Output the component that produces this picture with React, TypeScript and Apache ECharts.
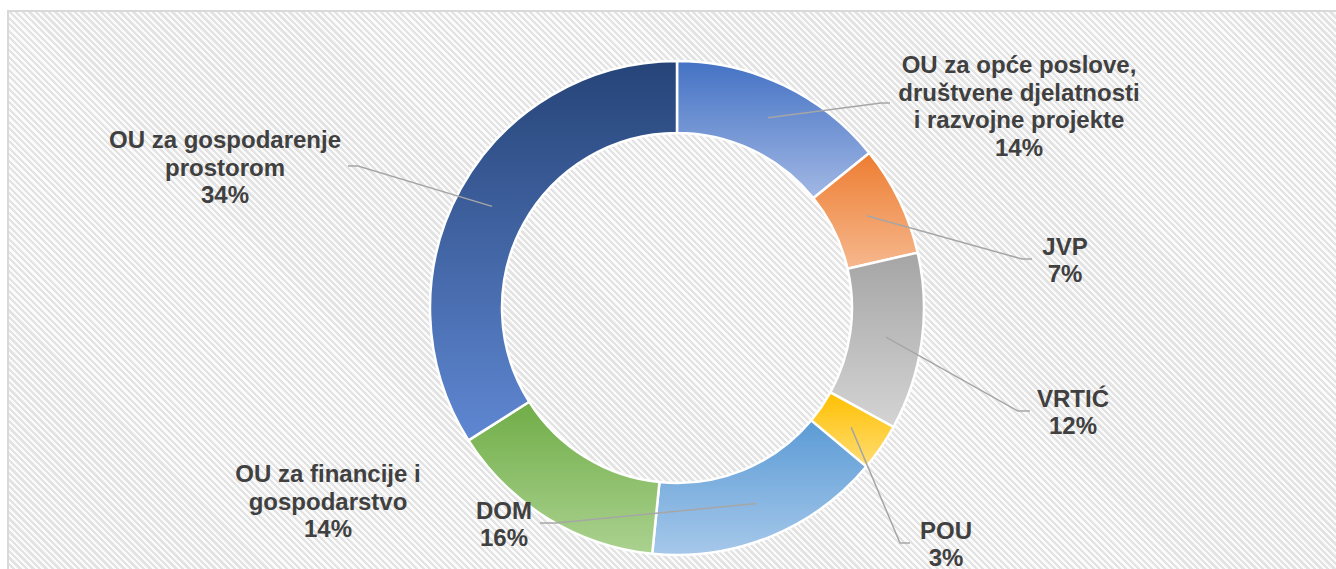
import React, { useEffect, useRef } from 'react';
import * as echarts from 'echarts';

// ---- data ----
const categories = [
  'OU za opće poslove,\ndruštvene djelatnosti\ni razvojne projekte',
  'JVP',
  'VRTIĆ',
  'POU',
  'DOM',
  'OU za financije i\ngospodarstvo',
  'OU za gospodarenje\nprostorom',
];
const shares = [14.2, 7.2, 11.6, 3.1, 15.5, 14.4, 34.0];

// ---- styles ----
const topColors = ['#4472C4', '#ED7D31', '#A5A5A5', '#FFC000', '#5B9BD5', '#70AD47', '#264478'];
const bottomColors = ['#A2B8E4', '#F6B88E', '#D4D4D4', '#FFDD75', '#A6C8EA', '#ABD290', '#5F87D2'];

// label block centres and leader-line elbows / ends (annotation layout)
const labelCenters: number[][] = [
  [1019, 106], [1065, 260], [1073, 412], [946, 544], [504, 524], [328, 501], [225, 167],
];
const labelElbows: (number[] | null)[] = [
  [881, 103], [1022, 259], [1018, 411], [900, 543], [556, 523], null, [358, 166],
];
const labelEnds: (number[] | null)[] = [
  [890, 103], [1032, 259], [1030, 411], [910, 543], [540, 523], null, [348, 166],
];

const CENTER = [677, 308];

export default function App() {
  const ref = useRef<HTMLDivElement>(null);
  useEffect(() => {
    if (!ref.current) return;
    const chart = echarts.init(ref.current, undefined, { renderer: 'svg' });
    const mainData = categories.map((name, i) => ({
      name,
      value: shares[i],
      itemStyle: {
        color: {
          type: 'linear', x: 0, y: 0, x2: 0, y2: 1,
          colorStops: [
            { offset: 0, color: topColors[i] },
            { offset: 1, color: bottomColors[i] },
          ],
        },
      },
    }));
    const labelData = categories.map((name, i) => ({
      name,
      value: shares[i],
      labelLine: { show: labelElbows[i] !== null },
    }));
    chart.setOption({
      animation: false,
      backgroundColor: 'transparent',
      series: [
        {
          type: 'pie',
          z: 2,
          center: CENTER,
          radius: [175, 247],
          startAngle: 90,
          clockwise: true,
          silent: true,
          label: { show: false },
          labelLine: { show: false },
          itemStyle: { borderColor: '#ffffff', borderWidth: 2.5 },
          data: mainData,
        },
        {
          type: 'pie',
          z: 4,
          center: CENTER,
          radius: [175, 211],
          startAngle: 90,
          clockwise: true,
          silent: true,
          percentPrecision: 0,
          avoidLabelOverlap: false,
          itemStyle: { color: 'rgba(0,0,0,0)', borderWidth: 0 },
          label: {
            show: true,
            position: 'outside',
            formatter: '{b}\n{d}%',
            color: '#404040',
            fontSize: 24,
            fontWeight: 'bold',
            fontFamily: '"Liberation Sans", Arial, sans-serif',
            lineHeight: 27.5,
            align: 'center',
          },
          labelLine: {
            show: true,
            length: 10,
            length2: 10,
            lineStyle: { color: '#A6A6A6', width: 1.5 },
          },
          labelLayout: (p: any) => {
            const i = p.dataIndex;
            const c = labelCenters[i];
            const res: any = { x: c[0], y: c[1], align: 'center', verticalAlign: 'middle' };
            const el = labelElbows[i];
            const en = labelEnds[i];
            if (el && en && p.labelLinePoints && p.labelLinePoints[0]) {
              res.labelLinePoints = [p.labelLinePoints[0], el, en];
            }
            return res;
          },
          data: labelData,
        },
      ],
    });
    return () => chart.dispose();
  }, []);

  return (
    <div style={{ position: 'absolute', left: 0, top: 0, width: 1336, height: 569, overflow: 'hidden', background: '#ffffff' }}>
      <div
        style={{
          position: 'absolute',
          left: 7,
          top: 10,
          width: 1400,
          height: 600,
          boxSizing: 'border-box',
          border: '2px solid #D9D9D9',
          background: 'repeating-linear-gradient(45deg, #FBFBFB 0px, #FBFBFB 2.3px, #E3E3E3 2.3px, #E3E3E3 4.6px)',
        }}
      />
      <div ref={ref} style={{ position: 'absolute', left: 0, top: 0, width: 1336, height: 569 }} />
    </div>
  );
}
